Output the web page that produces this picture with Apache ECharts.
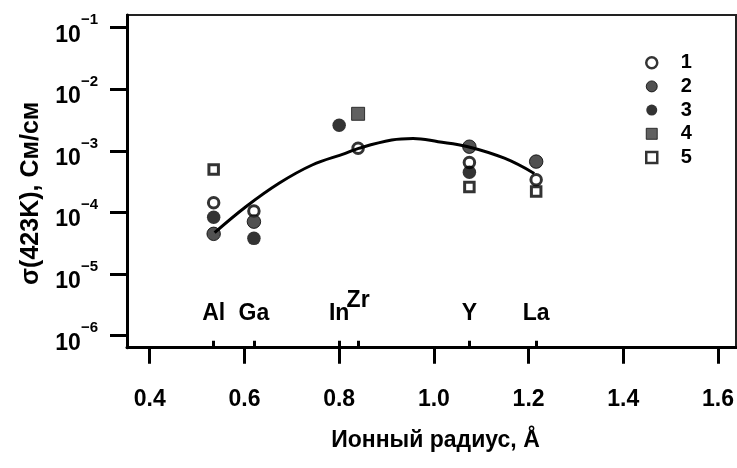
<!DOCTYPE html>
<html>
<head>
<meta charset="utf-8">
<script src="https://cdn.jsdelivr.net/npm/echarts@6/dist/echarts.min.js"></script>
<style>
html,body{margin:0;padding:0;background:#fff;}
#chart{width:737px;height:468px;}
</style>
</head>
<body>
<div id="chart"></div>
<script>
// ---- data ----
const xTicks = [0.4, 0.6, 0.8, 1.0, 1.2, 1.4, 1.6];
const yTickExponents = [-6, -5, -4, -3, -2, -1];
const elements = ['Al', 'Ga', 'In', 'Zr', 'Y', 'La'];
const radii = [0.535, 0.62, 0.80, 0.84, 1.075, 1.216];

const s1X = [0.535, 0.62, 0.84, 1.075, 1.216];
const s1Y = [1.44e-4, 1.06e-4, 1.10e-3, 6.5e-4, 3.4e-4];
const s2X = [0.535, 0.62, 1.075, 1.216];
const s2Y = [4.5e-5, 7.1e-5, 1.17e-3, 6.7e-4];
const s3X = [0.535, 0.62, 0.80, 1.075];
const s3Y = [8.4e-5, 3.8e-5, 2.6e-3, 4.5e-4];
const s4X = [0.84];
const s4Y = [4.0e-3];
const s5X = [0.535, 1.075, 1.216];
const s5Y = [5.0e-4, 2.6e-4, 2.2e-4];

const curveX = [0.537, 0.603, 0.673, 0.743, 0.813, 0.841, 0.911, 0.956, 1.009, 1.072, 1.149, 1.212];
const curveY = [4.7e-5, 1.24e-4, 2.98e-4, 5.9e-4, 9.1e-4, 1.10e-3, 1.50e-3, 1.59e-3, 1.41e-3, 1.17e-3, 7.6e-4, 4.3e-4];

const seriesNames = ['1', '2', '3', '4', '5'];
// ---------------------------------------

const FONT = "'Liberation Sans', Arial, sans-serif";
const W = 'bold';
const pts = (xs, ys) => xs.map((x, i) => [x, Math.log10(ys[i])]);

const styles = {
  '1': {symbol: 'circle', size: 10.5, item: {color: '#fff', borderColor: '#000', borderWidth: 3}, legend: {color: '#fff', borderColor: '#000', borderWidth: 2.5}},
  '2': {symbol: 'circle', size: 13.5, item: {color: '#262626', borderColor: '#000', borderWidth: 1}, legend: {color: '#262626', borderColor: '#000', borderWidth: 1}},
  '3': {symbol: 'circle', size: 13.5, item: {color: '#000'}, legend: {color: '#000', borderWidth: 0}},
  '4': {symbol: 'rect', size: 13, item: {color: '#3a3a3a', borderColor: '#111', borderWidth: 1}, legend: {color: '#3a3a3a', borderColor: '#111', borderWidth: 1}},
  '5': {symbol: 'rect', size: 9.5, item: {color: '#fff', borderColor: '#000', borderWidth: 3}, legend: {color: '#fff', borderColor: '#000', borderWidth: 2.5}}
};
const sx = [s1X, s2X, s3X, s4X, s5X];
const sy = [s1Y, s2Y, s3Y, s4Y, s5Y];

const scatterSeries = seriesNames.map((n, i) => ({
  name: n,
  type: 'scatter',
  xAxisIndex: 0,
  symbol: styles[n].symbol,
  symbolSize: styles[n].size,
  itemStyle: styles[n].item,
  data: pts(sx[i], sy[i]),
  z: 2
}));

const chart = echarts.init(document.getElementById('chart'), null, {renderer: 'canvas'});
chart.setOption({
  animation: false,
  backgroundColor: '#fff',
  textStyle: {fontFamily: FONT, color: '#000', fontWeight: W},
  grid: {left: 127, right: -3, top: 15, bottom: 120.3, show: true, borderColor: '#222', borderWidth: 2, backgroundColor: 'transparent'},
  legend: {
    orient: 'vertical',
    left: 640,
    top: 47.7,
    itemWidth: 11,
    itemHeight: 11,
    itemGap: 3.7,
    textStyle: {fontFamily: FONT, fontWeight: W, fontSize: 20, lineHeight: 16, color: '#000', padding: [0, 0, 0, 18.5]},
    data: seriesNames.map(n => ({name: n, icon: styles[n].symbol, itemStyle: styles[n].legend}))
  },
  xAxis: [
    {
      type: 'value', position: 'bottom',
      min: 0.352, max: 1.638,
      splitLine: {show: false},
      axisLine: {show: true, lineStyle: {color: '#000', width: 3}},
      axisTick: {show: true, length: 16, lineStyle: {color: '#000', width: 3}, customValues: xTicks},
      axisLabel: {customValues: xTicks, margin: 40, fontSize: 23, lineHeight: 23, color: '#000', fontFamily: FONT, fontWeight: W,
        formatter: v => v.toFixed(1)},
      name: 'Ионный радиус, Å', nameLocation: 'middle', nameGap: 81,
      nameTextStyle: {fontSize: 23, lineHeight: 24, color: '#000', fontFamily: FONT, fontWeight: W, padding: [0, 0, 0, 8]}
    },
    {
      type: 'value', position: 'top', offset: -332.7,
      min: 0.352, max: 1.638,
      splitLine: {show: false},
      axisLine: {show: false},
      axisTick: {show: true, inside: false, length: 7, lineStyle: {color: '#000', width: 3}, customValues: radii},
      axisLabel: {customValues: radii, margin: 22, fontSize: 23, lineHeight: 24, color: '#000', fontFamily: FONT, fontWeight: W,
        formatter: v => {
          const name = elements[radii.indexOf(v)];
          return name === 'Zr' ? '{z|Zr}' : name;
        },
        rich: {z: {fontSize: 23, lineHeight: 24, padding: [0, 0, 27, 0], fontFamily: FONT, fontWeight: W, color: '#000'}}
      }
    }
  ],
  yAxis: {
    type: 'value',
    min: -6.195, max: -0.794,
    splitLine: {show: false},
    axisLine: {show: true, lineStyle: {color: '#000', width: 3}},
    axisTick: {show: true, length: 17, lineStyle: {color: '#000', width: 3}, customValues: yTickExponents},
    axisLabel: {
      customValues: yTickExponents, margin: 29, color: '#000', padding: [4, 0, 0, 0],
      formatter: v => '{b|10}{s|−' + Math.abs(v) + '}',
      rich: {
        b: {fontSize: 23, lineHeight: 34, verticalAlign: 'bottom', fontFamily: FONT, fontWeight: W, color: '#000'},
        s: {fontSize: 15, lineHeight: 15, verticalAlign: 'top', fontFamily: FONT, fontWeight: W, color: '#000'}
      }
    },
    name: 'σ(423K), См/см', nameLocation: 'middle', nameGap: 82,
    nameTextStyle: {fontSize: 25, lineHeight: 27, color: '#000', fontFamily: FONT, fontWeight: W, padding: [0, 24, 0, 0]}
  },
  series: scatterSeries.concat([{
    type: 'line',
    xAxisIndex: 0,
    data: pts(curveX, curveY),
    smooth: 0.4,
    symbol: 'none',
    lineStyle: {color: '#000', width: 3},
    z: 5,
    silent: true
  }])
});
</script>
</body>
</html>
